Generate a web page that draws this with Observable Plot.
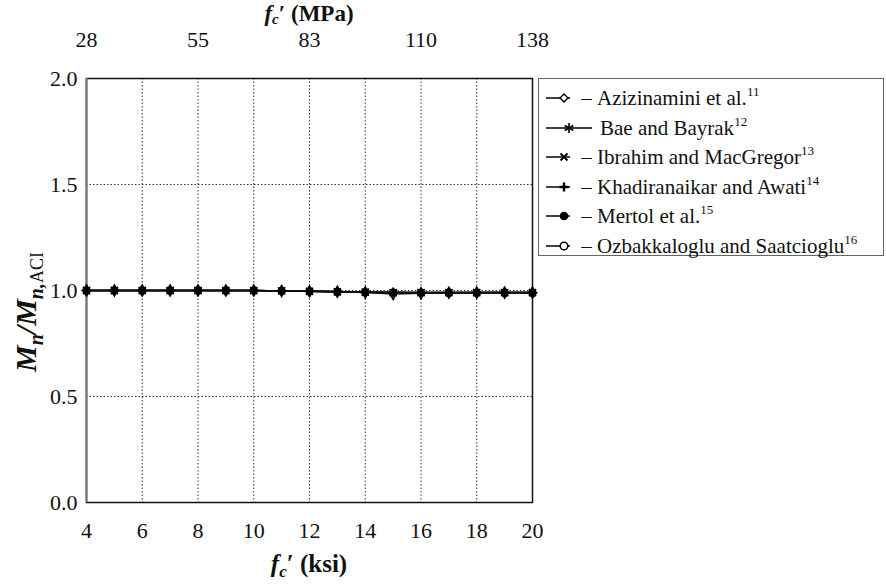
<!DOCTYPE html>
<html>
<head>
<meta charset="utf-8">
<script src="https://cdn.jsdelivr.net/npm/d3@7"></script>
<script src="https://cdn.jsdelivr.net/npm/@observablehq/plot@0.6"></script>
<style>
  body { margin: 0; background: #fff; }
  #wrap { position: relative; width: 886px; height: 584px; font-family: "Liberation Serif", "Times New Roman", Times, Tinos, "Nimbus Roman", "Noto Serif", "DejaVu Serif", serif; }
  #wrap svg, #wrap svg text { font-family: "Liberation Serif", "Times New Roman", Times, Tinos, "Nimbus Roman", "Noto Serif", "DejaVu Serif", serif !important; }
  #legend { position: absolute; left: 538px; top: 78px; width: 346px; height: 178px; border: 1.5px solid #666; box-sizing: border-box; background: #fff; }
  .lrow { position: absolute; left: 0; height: 28px; display: flex; align-items: center; font-size: 21px; color: #111; white-space: nowrap; }
  .lrow sup { font-size: 13px; position: relative; top: -1px; }
</style>
</head>
<body>
<div id="wrap"></div>
<script>
// ---- data ----
const ksi = [4,5,6,7,8,9,10,11,12,13,14,15,16,17,18,19,20];
const azizinamini = [1.0,1.0,1.0,1.0,1.0,1.0,1.0,0.998,0.996,0.994,0.991,0.984,0.987,0.989,0.99,0.99,0.99];
const baeBayrak   = [1.0,1.0,1.0,1.0,1.0,1.0,1.0,0.998,0.996,0.994,0.992,0.99,0.99,0.99,0.99,0.99,0.99];
const ibrahim     = [1.0,1.0,1.0,1.0,1.0,1.0,0.999,0.998,0.996,0.994,0.992,0.99,0.99,0.99,0.99,0.99,0.99];
const khadiran    = [1.0,1.0,1.0,1.0,1.0,1.0,1.0,0.998,0.996,0.994,0.992,0.99,0.989,0.989,0.989,0.989,0.989];
const mertol      = [1.0,1.0,1.0,1.0,1.0,1.0,1.0,0.998,0.996,0.994,0.992,0.99,0.988,0.988,0.988,0.988,0.988];
const ozbakkaloglu= [1.0,1.0,1.0,1.0,1.0,1.0,1.0,0.998,0.996,0.994,0.992,0.99,0.99,0.99,0.99,0.99,0.99];
const seriesNames = ["Azizinamini et al.", "Bae and Bayrak", "Ibrahim and MacGregor", "Khadiranaikar and Awati", "Mertol et al.", "Ozbakkaloglu and Saatcioglu"];
const refNums = ["11","12","13","14","15","16"];
const symbols = ["diamond","asterisk","times","plus","circle","circle"];
const fills = ["white","black","black","black","black","white"];
const drawOrder = [5,0,2,1,3,4];
const ksiTicks = [4,6,8,10,12,14,16,18,20];
const mpaTickPos = [4,8,12,16,20];
const mpaTickLabels = ["28","55","83","110","138"];
const yTicks = [0,0.5,1.0,1.5,2.0];

const allValues = [azizinamini, baeBayrak, ibrahim, khadiran, mertol, ozbakkaloglu];
const rows = [];
allValues.forEach((vals, si) => vals.forEach((v, i) => rows.push({x: ksi[i], y: v, s: seriesNames[si], si})));

const marks = [
  Plot.gridX(ksiTicks.slice(1, -1), {stroke: "#333", strokeOpacity: 1, strokeDasharray: "1.5,2", strokeWidth: 1}),
  Plot.gridY([0.5, 1.0, 1.5], {stroke: "#333", strokeOpacity: 1, strokeDasharray: "1.5,2", strokeWidth: 1}),
  Plot.frame({stroke: "#111", strokeWidth: 1.5}),
  Plot.ruleX([4], {stroke: "#777", strokeWidth: 2}),
  Plot.axisX(ksiTicks, {anchor: "bottom", tickSize: 0, tickPadding: 20, fontSize: 22, label: null}),
  Plot.axisX(mpaTickPos, {anchor: "top", tickSize: 0, tickPadding: 32, fontSize: 22, label: null, tickFormat: d => mpaTickLabels[mpaTickPos.indexOf(d)]}),
  Plot.axisY(yTicks, {anchor: "left", tickSize: 0, tickPadding: 9, fontSize: 22, label: null, tickFormat: d => d.toFixed(1)}),
  Plot.line(rows, {x: "x", y: "y", z: "s", stroke: "#111", strokeWidth: 1.5})
];
drawOrder.forEach(si => {
  marks.push(Plot.dot(rows.filter(r => r.si === si), {x: "x", y: "y", symbol: () => symbols[si], r: 3.4, fill: fills[si], stroke: "black", strokeWidth: 1.4}));
});

const chart = Plot.plot({
  width: 886, height: 584,
  marginLeft: 86, marginRight: 354, marginTop: 78, marginBottom: 82,
  style: {color: "#111", background: "white"},
  x: {domain: [4, 20]},
  y: {domain: [0, 2]},
  symbol: {type: "identity"},
  marks
});
document.getElementById("wrap").appendChild(chart);

// axis titles with mixed styling
const svg = d3.select(chart);
const t1 = svg.append("text").attr("x", 309).attr("y", 21).attr("text-anchor", "middle")
  .attr("font-size", 23).attr("font-weight", "bold").attr("fill", "#111");
t1.append("tspan").attr("font-style", "italic").text("f");
t1.append("tspan").attr("font-style", "italic").attr("font-size", 15).attr("dy", 3).text("c");
t1.append("tspan").attr("dy", -3).text("′ (MPa)");

const t2 = svg.append("text").attr("x", 309).attr("y", 572).attr("text-anchor", "middle")
  .attr("font-size", 25).attr("font-weight", "bold").attr("fill", "#111");
t2.append("tspan").attr("font-style", "italic").text("f");
t2.append("tspan").attr("font-style", "italic").attr("font-size", 17).attr("dy", 5).text("c");
t2.append("tspan").attr("dy", -5).text("′ (ksi)");

const t3 = svg.append("text").attr("transform", "translate(36,312) rotate(-90)").attr("text-anchor", "middle")
  .attr("font-size", 30).attr("font-weight", "bold").attr("fill", "#111");
t3.append("tspan").attr("font-style", "italic").text("M");
t3.append("tspan").attr("font-style", "italic").attr("font-size", 20).attr("dy", 7).text("n");
t3.append("tspan").attr("dy", -7).attr("font-style", "italic").text("/M");
t3.append("tspan").attr("font-style", "italic").attr("font-size", 20).attr("dy", 7).text("n,");
t3.append("tspan").attr("font-size", 18).attr("font-weight", "normal").text("ACI");

// legend
const legend = document.createElement("div");
legend.id = "legend";
const symPath = {
  diamond: '<path d="M0,-4L4,0L0,4L-4,0Z" fill="white" stroke="black" stroke-width="1.4"/>',
  asterisk: '<path d="M0,-5V5M-4.3,-2.5L4.3,2.5M-4.3,2.5L4.3,-2.5" stroke="black" stroke-width="1.6"/>',
  times: '<path d="M-3.5,-3.5L3.5,3.5M-3.5,3.5L3.5,-3.5" stroke="black" stroke-width="1.8"/>',
  plus: '<path d="M-4.5,0H4.5M0,-4.5V4.5" stroke="black" stroke-width="2.4"/>',
  circleF: '<circle r="4.3" fill="black"/>',
  circleO: '<circle r="3.8" fill="white" stroke="black" stroke-width="1.4"/>'
};
const keys = ["diamond","asterisk","times","plus","circleF","circleO"];
seriesNames.forEach((name, i) => {
  const row = document.createElement("div");
  row.className = "lrow";
  row.style.top = (5 + i * 29.5) + "px";
  const bae = i === 1;
  const lineEnd = bae ? 46 : 24;
  row.innerHTML = `<svg width="${bae ? 50 : 30}" height="20" style="margin-left:7px"><line x1="0" y1="10" x2="${lineEnd}" y2="10" stroke="black" stroke-width="1.5"/><g transform="translate(${bae ? 23 : 18},10)">${symPath[keys[i]]}</g></svg>` +
    `<span style="margin-left:${bae ? 4 : 0}px">${bae ? "" : "&nbsp;–&nbsp;"}${name}<sup>${refNums[i]}</sup></span>`;
  legend.appendChild(row);
});
document.getElementById("wrap").appendChild(legend);
</script>
</body>
</html>
